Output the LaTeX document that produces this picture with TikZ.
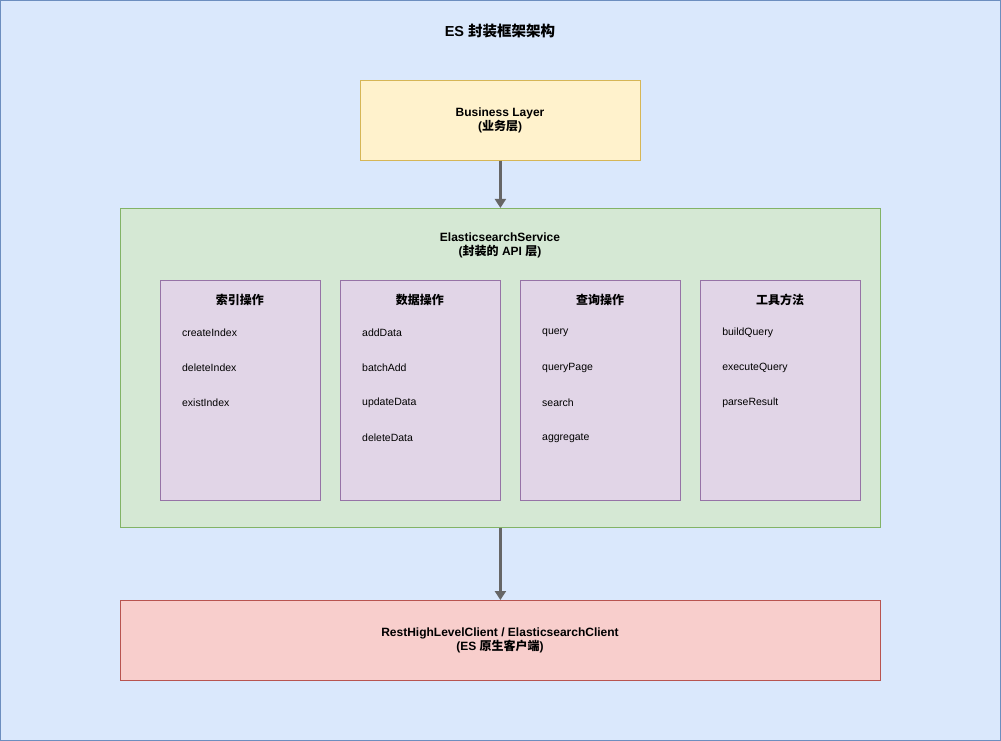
\documentclass[tikz,border=0pt]{standalone}
\usepackage{fontspec}
\setmainfont{Liberation Sans}
\newfontfamily\cjk{Noto Sans CJK SC}
\usetikzlibrary{arrows.meta}
\definecolor{bgF}{HTML}{DAE8FC}\definecolor{bgD}{HTML}{6C8EBF}
\definecolor{yF}{HTML}{FFF2CC}\definecolor{yD}{HTML}{D6B656}
\definecolor{gF}{HTML}{D5E8D4}\definecolor{gD}{HTML}{82B366}
\definecolor{pF}{HTML}{E1D5E7}\definecolor{pD}{HTML}{9673A6}
\definecolor{rF}{HTML}{F8CECC}\definecolor{rD}{HTML}{B85450}
\definecolor{arr}{HTML}{666666}
\begin{document}
\begin{tikzpicture}[x=1pt,y=-1pt,
  box/.style={draw, line width=0.8pt},
  lbl/.style={font=\bfseries\fontsize{12}{14}\selectfont, align=center, inner sep=0},
  item/.style={font=\fontsize{10.5}{12}\selectfont, anchor=west, inner sep=0},
  conn/.style={draw=arr, line width=2.5pt, -{Triangle[length=9pt,width=11pt]}}]
\path[box, draw=bgD, fill=bgF] (0.5,0.5) rectangle (1000.5,740.5);
\node[lbl, font=\bfseries\fontsize{14.5}{16}\selectfont] (title) at (500,31) {ES {\cjk 封装框架架构}};
\node[box, draw=yD, fill=yF, minimum width=280pt, minimum height=80pt, anchor=north west] (biz) at (360,80) {};
\node[lbl] (bizt) at (500,120) {Business Layer\\({\cjk 业务层})};
\node[box, draw=gD, fill=gF, minimum width=760pt, minimum height=319pt, anchor=north west] (svc) at (120,208) {};
\node[lbl] (svct) at (500,245) {ElasticsearchService\\({\cjk 封装的} API {\cjk 层})};
\node[box, draw=rD, fill=rF, minimum width=760pt, minimum height=80pt, anchor=north west] (cli) at (120,600) {};
\node[lbl] (clit) at (500,640) {RestHighLevelClient / ElasticsearchClient\\(ES {\cjk 原生客户端})};
\foreach \i/\x/\h/\a/\b/\c/\d in {
  1/160/索引操作/createIndex/deleteIndex/existIndex/,
  2/340/数据操作/addData/batchAdd/updateData/deleteData,
  3/520/查询操作/query/queryPage/search/aggregate,
  4/700/工具方法/buildQuery/executeQuery/parseResult/}{
  \node[box, draw=pD, fill=pF, minimum width=160pt, minimum height=220pt, anchor=north west] (g\i) at (\x,280) {};
  \node[lbl] (h\i) at (\x+80,300) {\cjk \h};
  \node[item] (a\i) at (\x+22,333) {\a};
  \node[item] (b\i) at (\x+22,368) {\b};
  \node[item] (c\i) at (\x+22,403) {\c};
  \node[item] (d\i) at (\x+22,438) {\d};
}
\draw[conn] (biz.south) -- (svc.north);
\draw[conn] (svc.south) -- (cli.north);
\end{tikzpicture}
\end{document}
